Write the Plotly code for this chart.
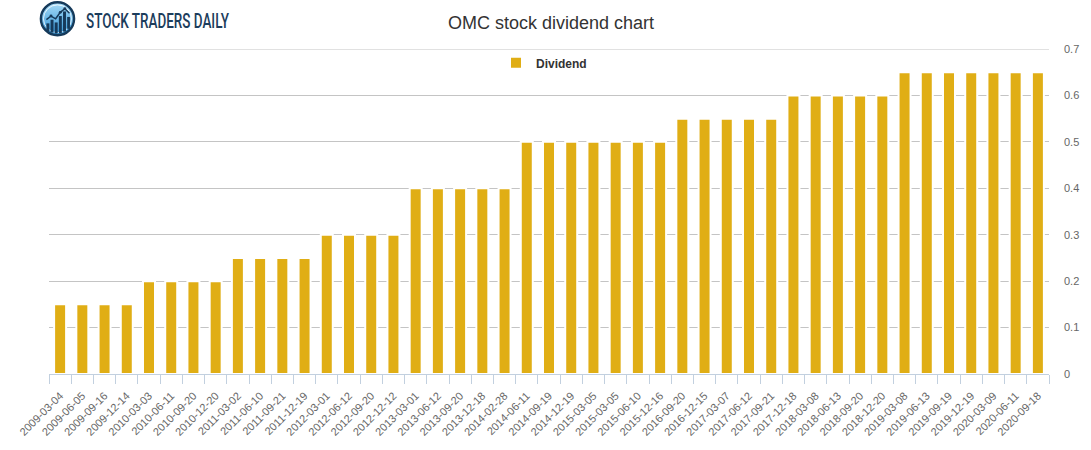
import base64
import plotly.graph_objects as go

# ---- data ----
dates = [
    "2009-03-04", "2009-06-05", "2009-09-16", "2009-12-14",
    "2010-03-03", "2010-06-11", "2010-09-20", "2010-12-20",
    "2011-03-02", "2011-06-10", "2011-09-21", "2011-12-19",
    "2012-03-01", "2012-06-12", "2012-09-20", "2012-12-12",
    "2013-03-01", "2013-06-12", "2013-09-20", "2013-12-18", "2014-02-28",
    "2014-06-11", "2014-09-19", "2014-12-19", "2015-03-05", "2015-03-05",
    "2015-06-10", "2015-12-16",
    "2016-09-20", "2016-12-15", "2017-03-07", "2017-06-12", "2017-09-21",
    "2017-12-18", "2018-03-08", "2018-06-13", "2018-09-20", "2018-12-20",
    "2019-03-08", "2019-06-13", "2019-09-19", "2019-12-19", "2020-03-09",
    "2020-06-11", "2020-09-18",
]
dividends = [
    0.15, 0.15, 0.15, 0.15,
    0.20, 0.20, 0.20, 0.20,
    0.25, 0.25, 0.25, 0.25,
    0.30, 0.30, 0.30, 0.30,
    0.40, 0.40, 0.40, 0.40, 0.40,
    0.50, 0.50, 0.50, 0.50, 0.50, 0.50, 0.50,
    0.55, 0.55, 0.55, 0.55, 0.55,
    0.60, 0.60, 0.60, 0.60, 0.60,
    0.65, 0.65, 0.65, 0.65, 0.65, 0.65, 0.65,
]
y_ticks = [0, 0.1, 0.2, 0.3, 0.4, 0.5, 0.6, 0.7]
y_tick_labels = ["0", "0.1", "0.2", "0.3", "0.4", "0.5", "0.6", "0.7"]
y_max = 0.7

positions = list(range(len(dates)))
boundaries = [p - 0.5 for p in range(len(dates) + 1)]

W, H = 1091, 450
ML, MR, MT, MB = 49, 40, 49, 73
PW, PH = W - ML - MR, H - MT - MB


def px_x(x):
    return (x - ML) / PW


def px_y(y):
    return (H - MB - y) / PH


fig = go.Figure()
fig.add_trace(go.Bar(
    x=positions,
    y=dividends,
    name="Dividend",
    marker=dict(color="#e0ae15", line=dict(color="#ffffff", width=2)),
    showlegend=True,
))

# top gridline at the range maximum
fig.add_shape(type="line", xref="paper", yref="y", x0=0, x1=1, y0=y_max, y1=y_max,
              line=dict(color="#c4c4c4", width=1), layer="below")

# logo icon (decorative)
logo_svg = """<svg xmlns='http://www.w3.org/2000/svg' viewBox='0 0 40 40' width='40' height='40'>
<defs><linearGradient id='g' x1='0' y1='0' x2='0' y2='1'>
<stop offset='0' stop-color='#a9dcf7'/><stop offset='1' stop-color='#2f93d6'/></linearGradient></defs>
<circle cx='20' cy='20' r='18' fill='url(#g)' stroke='#163a5a' stroke-width='2.6'/>
<circle cx='20' cy='20' r='15.2' fill='none' stroke='#ffffff' stroke-width='0.9'/>
<rect x='8' y='25' width='3.2' height='9' fill='#163a5a'/>
<rect x='12.5' y='21' width='3.2' height='14' fill='#163a5a'/>
<rect x='17' y='24' width='3.2' height='12' fill='#163a5a'/>
<rect x='21.5' y='17' width='3.2' height='19' fill='#163a5a'/>
<rect x='26' y='12' width='3.2' height='22' fill='#163a5a'/>
<rect x='30.5' y='18' width='3' height='13' fill='#163a5a'/>
<polyline points='8,21 13,17 18,20 23,13 28,9 33,14' fill='none' stroke='#163a5a' stroke-width='1.6'/>
<circle cx='13' cy='17' r='1.6' fill='#163a5a'/><circle cx='23' cy='13' r='1.6' fill='#163a5a'/>
<circle cx='28' cy='9' r='1.6' fill='#163a5a'/>
</svg>"""
logo_uri = "data:image/svg+xml;base64," + base64.b64encode(logo_svg.encode()).decode()
fig.add_layout_image(dict(
    source=logo_uri, xref="paper", yref="paper",
    x=px_x(39), y=px_y(0), sizex=37 / PW, sizey=37 / PH,
    xanchor="left", yanchor="top", sizing="stretch", layer="above",
))

fig.add_annotation(
    text="STOCK TRADERS DAILY", xref="paper", yref="paper",
    x=px_x(157.5), y=px_y(21), xanchor="center", yanchor="middle",
    showarrow=False,
    font=dict(family="Roboto, Liberation Sans, sans-serif",
              size=21, color="#1c3d5c", weight=500),
)

fig.update_layout(
    width=W, height=H,
    margin=dict(l=ML, r=MR, t=MT, b=MB, pad=0),
    paper_bgcolor="#ffffff", plot_bgcolor="#ffffff",
    bargap=0.46,
    title=dict(text="OMC stock dividend chart", x=px_x(555), xanchor="center",
               y=1 - 23 / H, yanchor="middle",
               font=dict(family="Liberation Sans, Arial, sans-serif", size=18, color="#333333")),
    legend=dict(orientation="h", x=px_x(545), xanchor="center", y=px_y(63), yanchor="middle",
                font=dict(family="Liberation Sans, Arial, sans-serif", size=12, color="#333333",
                          weight="bold"),
                bgcolor="rgba(0,0,0,0)"),
    font=dict(family="Liberation Sans, Arial, sans-serif"),
    hovermode=False,
)

fig.update_xaxes(
    range=[-0.5, len(dates) - 0.5],
    tickmode="array", tickvals=positions, ticktext=dates,
    tickangle=-45, ticks="", ticklabelstandoff=10,
    tickfont=dict(size=11, color="#666666"),
    showgrid=False, zeroline=False,
    showline=True, linecolor="#c2d0df", linewidth=1,
    minor=dict(tickmode="array", tickvals=boundaries, ticks="outside",
               ticklen=9, tickcolor="#c2d0df", tickwidth=1, showgrid=False),
)
fig.update_yaxes(
    side="right", range=[0, y_max],
    tickmode="array", tickvals=y_ticks, ticktext=y_tick_labels,
    ticks="", ticklabelstandoff=14,
    tickfont=dict(size=11, color="#666666"),
    showgrid=True, gridcolor="#c4c4c4", gridwidth=1,
    zeroline=False, showline=False,
)

post_js = """
document.body.style.margin = '0';
document.body.style.padding = '0';
var gd = document.getElementById('{plot_id}');
var t = gd.querySelector('.annotation-text');
if (t) { t.setAttribute('textLength', '143'); t.setAttribute('lengthAdjust', 'spacingAndGlyphs'); }
"""
fig.write_html("out.html", post_script=post_js, config={"displayModeBar": False})
